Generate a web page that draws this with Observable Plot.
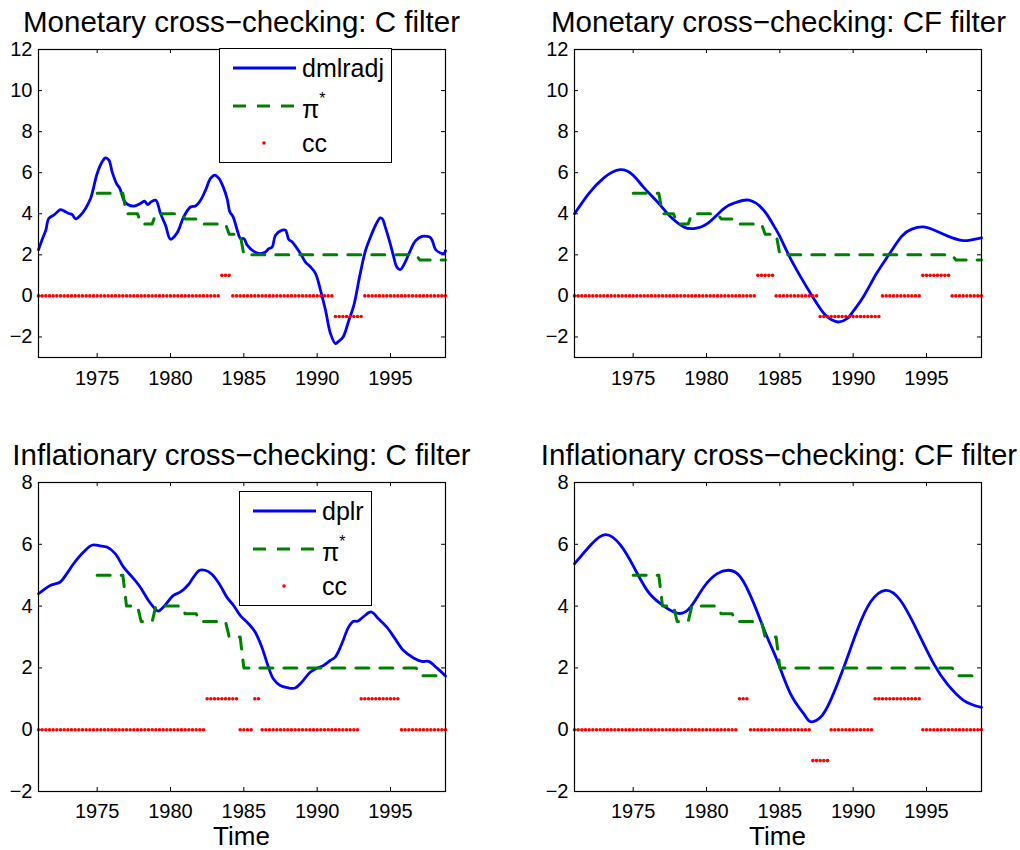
<!DOCTYPE html>
<html>
<head>
<meta charset="utf-8">
<script src="https://cdn.jsdelivr.net/npm/d3@7"></script>
<script src="https://cdn.jsdelivr.net/npm/@observablehq/plot@0.6"></script>
<style>
  html, body { margin: 0; padding: 0; background: #fff; }
  #root { position: relative; width: 1020px; height: 850px; background: #fff;
          font-family: "Liberation Sans", Arial, Helvetica, sans-serif; color: #000; overflow: hidden; }
  .title { position: absolute; text-align: center; font-size: 29.5px; line-height: 29.5px; white-space: nowrap; }
  .xlabel { position: absolute; text-align: center; font-size: 26px; line-height: 22px; }
  .panel { position: absolute; }
  .legend { position: absolute; border: 1px solid #000; background: #fff; box-sizing: border-box; }
  .legend svg { position: absolute; left: 0; top: 0; overflow: visible; }
  .legend text { font-family: "Liberation Sans", Arial, sans-serif; font-size: 25px; fill: #000; }
</style>
</head>
<body>
<div id="root"></div>
<script>
// ---------------- DATA ----------------
const xTicks = [1975, 1980, 1985, 1990, 1995];
const yTicksMon = [-2, 0, 2, 4, 6, 8, 10, 12];
const yTicksInf = [-2, 0, 2, 4, 6, 8];

// quarterly time axis 1971Q1 .. 1998Q4
const quarterStart = 1971;
const quarterCount = 112;

// pi* (inflation objective), one value per quarter (null = not defined)
const piStar = [
  null,null,null,null, null,null,null,null, null,null,null,null, null,null,null,null, // 1971-1974
  5,5,5,5,           // 1975
  5,5,5,5,           // 1976
  4,4,4,4,           // 1977
  3.5,3.5,3.5,3.5,   // 1978
  4,4,4,4,           // 1979
  4,4,4,4,           // 1980
  3.75,3.75,3.75,3.75, // 1981
  3.5,3.5,3.5,3.5,   // 1982
  3.5,3.5,3.5,3.5,   // 1983
  3,3,3,3,           // 1984
  2,2,2,2, 2,2,2,2, 2,2,2,2, 2,2,2,2, // 1985-1988
  2,2,2,2, 2,2,2,2, 2,2,2,2, 2,2,2,2, // 1989-1992
  2,2,2,2, 2,2,2,2, 2,2,2,2, 2,2,2,2, // 1993-1996
  1.75,1.75,1.75,1.75, 1.75,1.75,1.75,1.75 // 1997-1998
];

// cc signals, one per quarter
const ccMonC = [
  0,0,0,0, 0,0,0,0, 0,0,0,0, 0,0,0,0, 0,0,0,0, 0,0,0,0, // 1971-1976
  0,0,0,0, 0,0,0,0, 0,0,0,0, 0,0,0,0, 0,0,0,0, 0,0,0,0, // 1977-1982
  0,0,1,1, 1,0,0,0, 0,0,0,0, 0,0,0,0, 0,0,0,0, 0,0,0,0, // 1983-1988
  0,0,0,0, 0,0,0,0, 0,-1,-1,-1, -1,-1,-1,-1, -1,0,0,0,  // 1989-1993
  0,0,0,0, 0,0,0,0, 0,0,0,0, 0,0,0,0, 0,0,0,0           // 1994-1998
];
const ccMonCF = [
  0,0,0,0, 0,0,0,0, 0,0,0,0, 0,0,0,0, 0,0,0,0, 0,0,0,0, // 1971-1976
  0,0,0,0, 0,0,0,0, 0,0,0,0, 0,0,0,0, 0,0,0,0, 0,0,0,0, // 1977-1982
  0,0,1,1, 1,1,1,0, 0,0,0,0, 0,0,0,0, 0,0,0,-1, -1,-1,-1,-1, // 1983-1988
  -1,-1,-1,-1, -1,-1,-1,-1, -1,-1,-1,-1, 0,0,0,0, 0,0,0,0, // 1989-1993
  0,0,0,1, 1,1,1,1, 1,1,1,0, 0,0,0,0, 0,0,0,0              // 1994-1998
];
const ccInfC = [
  0,0,0,0, 0,0,0,0, 0,0,0,0, 0,0,0,0, 0,0,0,0, 0,0,0,0, // 1971-1976
  0,0,0,0, 0,0,0,0, 0,0,0,0, 0,0,0,0, 0,0,0,0, 0,0,1,1, // 1977-1982
  1,1,1,1, 1,1,1,0, 0,0,0,1, 1,0,0,0, 0,0,0,0, 0,0,0,0, // 1983-1988
  0,0,0,0, 0,0,0,0, 0,0,0,0, 0,0,0,0, 1,1,1,1,          // 1989-1993
  1,1,1,1, 1,1,1,0, 0,0,0,0, 0,0,0,0, 0,0,0,0           // 1994-1998
];
const ccInfCF = [
  0,0,0,0, 0,0,0,0, 0,0,0,0, 0,0,0,0, 0,0,0,0, 0,0,0,0, // 1971-1976
  0,0,0,0, 0,0,0,0, 0,0,0,0, 0,0,0,0, 0,0,0,0, 0,1,1,1, // 1977-1982
  0,0,0,0, 0,0,0,0, 0,0,0,0, 0,0,0,0, 0,-1,-1,-1, -1,-1,0,0, // 1983-1988
  0,0,0,0, 0,0,0,0, 0,0,1,1, 1,1,1,1, 1,1,1,1,          // 1989-1993
  1,1,1,0, 0,0,0,0, 0,0,0,0, 0,0,0,0, 0,0,0,0           // 1994-1998
];

// dmlradj, C filter
const monCTime = [1971.0,1971.25,1971.5,1971.7,1972.04,1972.5,1972.73,1973.07,1973.3,1973.52,1973.86,1974.2,1974.55,1975.0,1975.34,1975.57,1975.8,1976.02,1976.32,1976.55,1976.82,1977.09,1977.5,1977.95,1978.23,1978.45,1978.68,1979.0,1979.32,1979.66,1980.0,1980.45,1980.9,1981.36,1981.7,1982.05,1982.39,1982.73,1983.02,1983.3,1983.59,1983.86,1984.05,1984.27,1984.55,1984.77,1985.0,1985.23,1985.68,1986.14,1986.48,1986.7,1986.93,1987.16,1987.61,1987.84,1988.07,1988.3,1988.86,1989.2,1989.55,1989.89,1990.23,1990.57,1990.91,1991.25,1991.48,1991.77,1992.16,1992.5,1992.91,1993.3,1993.64,1993.98,1994.3,1994.45,1994.64,1994.98,1995.2,1995.43,1995.66,1995.95,1996.36,1996.7,1997.16,1997.5,1997.7,1997.84,1998.07,1998.41,1998.64,1998.75];
const monCVal  = [2.25,2.75,3.2,3.77,3.93,4.2,4.14,4.01,3.96,3.75,3.93,4.25,4.74,5.96,6.53,6.72,6.61,6.04,5.47,5.23,4.66,4.45,4.37,4.5,4.61,4.45,4.58,4.66,4.01,3.44,2.76,3.07,3.85,4.33,4.38,4.66,5.15,5.72,5.88,5.72,5.31,4.74,4.09,3.85,3.2,2.79,2.79,2.47,2.17,2.06,2.14,2.3,2.38,2.95,3.2,3.2,2.74,2.63,2.06,1.65,1.41,1.09,0.27,-0.7,-1.84,-2.32,-2.2,-2.0,-1.19,-0.46,1.0,2.22,2.87,3.44,3.8,3.75,3.36,2.55,1.95,1.41,1.28,1.57,2.22,2.68,2.9,2.9,2.85,2.71,2.26,2.09,2.06,2.2];

// dmlradj, CF filter
const monCFTime = [1971.0,1972.0,1973.0,1974.1,1975.0,1975.7,1976.75,1977.55,1978.45,1979.14,1980.05,1981.18,1982.0,1982.9,1983.9,1984.6,1985.0,1985.6,1986.4,1987.2,1988.0,1988.5,1989.0,1989.6,1990.0,1990.73,1991.6,1992.43,1993.3,1994.0,1994.8,1995.7,1996.5,1997.4,1998.0,1998.75];
const monCFVal  = [4.0,5.0,5.75,6.15,5.88,5.3,4.5,3.85,3.36,3.28,3.52,4.25,4.55,4.66,4.17,3.4,2.9,2.0,0.95,0.0,-0.85,-1.15,-1.27,-1.1,-0.75,0.0,1.1,2.0,2.9,3.25,3.36,3.15,2.9,2.7,2.72,2.82];

// dplr, C filter
const infCTime = [1971.0,1971.8,1972.14,1972.48,1972.93,1973.39,1974.07,1974.64,1975.2,1975.66,1976.23,1976.8,1977.48,1977.93,1978.5,1978.95,1979.18,1979.52,1980.2,1980.66,1981.23,1981.57,1981.98,1982.36,1982.82,1983.39,1983.84,1984.3,1984.75,1985.32,1985.77,1986.23,1986.68,1987.02,1987.48,1988.05,1988.5,1988.95,1989.52,1989.98,1990.43,1990.89,1991.23,1991.68,1992.14,1992.48,1992.75,1993.16,1993.68,1994.18,1994.75,1995.32,1995.89,1996.57,1997.14,1997.59,1998.16,1998.75];
const infCVal  = [4.4,4.67,4.72,4.78,5.05,5.37,5.75,5.97,5.95,5.91,5.7,5.26,4.89,4.62,4.18,3.91,3.84,3.97,4.35,4.45,4.7,4.94,5.16,5.16,5.03,4.67,4.29,4.02,3.7,3.43,3.16,2.67,2.02,1.64,1.43,1.35,1.35,1.54,1.86,1.99,2.08,2.24,2.35,2.78,3.32,3.51,3.51,3.66,3.81,3.59,3.32,2.94,2.56,2.32,2.21,2.21,2.0,1.74];

// dplr, CF filter
const infCFTime = [1971.0,1972.09,1973.11,1974.14,1975.05,1975.95,1976.86,1978.0,1978.91,1979.82,1980.73,1981.52,1982.32,1983.23,1984.14,1984.82,1985.73,1986.64,1987.09,1987.77,1988.45,1989.36,1990.27,1991.18,1992.2,1993.23,1994.36,1995.5,1996.41,1997.55,1998.75];
const infCFVal  = [5.37,5.97,6.31,5.97,5.26,4.51,4.08,3.77,3.97,4.62,5.05,5.16,4.94,4.08,2.99,2.24,1.16,0.51,0.26,0.4,0.94,2.02,3.21,4.13,4.51,4.18,3.21,2.13,1.48,0.94,0.72];

const titles = [
  "Monetary cross\u2212checking: C filter",
  "Monetary cross\u2212checking: CF filter",
  "Inflationary cross\u2212checking: C filter",
  "Inflationary cross\u2212checking: CF filter"
];

// ---------------- DRAWING ----------------
const BLUE = "#0000ff", GREEN = "#008000", RED = "#ff0000";
const FONT = '"Liberation Sans", Arial, Helvetica, sans-serif';
const quarters = d3.range(quarterCount).map(k => quarterStart + k / 4);
const fmtY = d => (d < 0 ? "\u2212" + Math.abs(d) : String(d));

function makePanel(o) {
  const W = 510, H = 350;
  const innerW = W - o.mL - o.mR, innerH = H - o.mT - o.mB;
  const lineData = o.lineT.map((t, i) => ({t, v: o.lineV[i]}));
  const piData = quarters.map((t, i) => ({t, v: piStar[i]}));
  const ccData = quarters.map((t, i) => ({t, v: o.cc[i]}));
  const svg = Plot.plot({
    width: W, height: H,
    marginLeft: o.mL, marginRight: o.mR, marginTop: o.mT, marginBottom: o.mB,
    x: {domain: [1971, 1998.75], label: null},
    y: {domain: o.yDomain, label: null},
    style: {fontFamily: FONT, fontSize: "20px", color: "#000", background: "transparent", overflow: "visible"},
    marks: [
      Plot.axisX(xTicks, {anchor: "bottom", tickSize: 0, tickPadding: o.xPad, tickFormat: d => String(d), fontSize: 20, fill: "#000"}),
      Plot.axisY(o.yTicks, {anchor: "left", tickSize: 0, tickPadding: 6, tickFormat: fmtY, fontSize: 20, fill: "#000"}),
      Plot.tickX(xTicks, {x: d => d, insetTop: innerH - 4, stroke: "#000", strokeWidth: 1}),
      Plot.tickX(xTicks, {x: d => d, insetBottom: innerH - 4, stroke: "#000", strokeWidth: 1}),
      Plot.tickY(o.yTicks, {y: d => d, insetRight: innerW - 4, stroke: "#000", strokeWidth: 1}),
      Plot.tickY(o.yTicks, {y: d => d, insetLeft: innerW - 4, stroke: "#000", strokeWidth: 1}),
      Plot.line(lineData, {x: "t", y: "v", stroke: BLUE, strokeWidth: 2.8, curve: o.curve}),
      Plot.line(piData, {x: "t", y: "v", stroke: GREEN, strokeWidth: 3, strokeDasharray: "13,11"}),
      Plot.dot(ccData, {x: "t", y: "v", r: 1.8, fill: RED, stroke: "none"}),
      Plot.frame({stroke: "#000", strokeWidth: 1.2})
    ]
  });
  const wrap = document.createElement("div");
  wrap.className = "panel";
  wrap.style.left = o.left + "px";
  wrap.style.top = o.top + "px";
  wrap.appendChild(svg);
  return wrap;
}

function makeLegend(left, top, width, name) {
  const div = document.createElement("div");
  div.className = "legend";
  div.style.left = left + "px";
  div.style.top = top + "px";
  div.style.width = width + "px";
  div.style.height = "115px";
  div.innerHTML = `<svg width="${width}" height="115">
    <line x1="13" x2="76" y1="19" y2="19" stroke="${BLUE}" stroke-width="2.8"/>
    <line x1="13" x2="76" y1="57" y2="57" stroke="${GREEN}" stroke-width="3" stroke-dasharray="13,11"/>
    <circle cx="44" cy="94" r="1.8" fill="${RED}"/>
    <text x="82" y="28">${name}</text>
    <text x="82" y="69">\u03c0<tspan dy="-14" font-size="16">*</tspan></text>
    <text x="82" y="103">cc</text>
  </svg>`;
  return div;
}

function addText(cls, text, left, top, width) {
  const d = document.createElement("div");
  d.className = cls;
  d.textContent = text;
  d.style.left = left + "px";
  d.style.top = top + "px";
  d.style.width = width + "px";
  return d;
}

const root = document.getElementById("root");

// panels
root.appendChild(makePanel({left: 0, top: 40, mL: 38, mR: 65, mT: 9, mB: 33, xPad: 13,
  yDomain: [-3, 12], yTicks: yTicksMon, lineT: monCTime, lineV: monCVal, curve: "catmull-rom", cc: ccMonC}));
root.appendChild(makePanel({left: 510, top: 40, mL: 64, mR: 39, mT: 9, mB: 33, xPad: 13,
  yDomain: [-3, 12], yTicks: yTicksMon, lineT: monCFTime, lineV: monCFVal, curve: "natural", cc: ccMonCF}));
root.appendChild(makePanel({left: 0, top: 472, mL: 38, mR: 65, mT: 10, mB: 31, xPad: 12,
  yDomain: [-2, 8], yTicks: yTicksInf, lineT: infCTime, lineV: infCVal, curve: "catmull-rom", cc: ccInfC}));
root.appendChild(makePanel({left: 510, top: 472, mL: 64, mR: 39, mT: 10, mB: 31, xPad: 12,
  yDomain: [-2, 8], yTicks: yTicksInf, lineT: infCFTime, lineV: infCFVal, curve: "natural", cc: ccInfCF}));

// titles (centered over plot frames)
root.appendChild(addText("title", titles[0], -58.5, 7, 600));
root.appendChild(addText("title", titles[1], 478.5, 7, 600));
root.appendChild(addText("title", titles[2], -58.5, 440, 600));
root.appendChild(addText("title", titles[3], 479, 440, 600));

// x labels
root.appendChild(addText("xlabel", "Time", 141.5, 825, 200));
root.appendChild(addText("xlabel", "Time", 677.5, 825, 200));

// legends
root.appendChild(makeLegend(219, 48, 173, "dmlradj"));
root.appendChild(makeLegend(239, 491, 133, "dplr"));
</script>
</body>
</html>
